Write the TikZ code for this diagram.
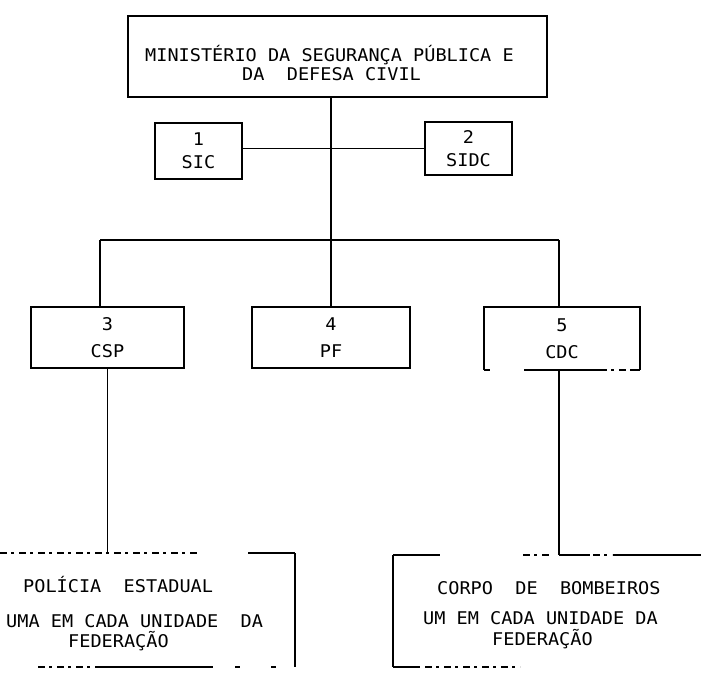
\documentclass[tikz,border=0pt]{standalone}
\usepackage{fontspec}
\newfontfamily\tw[FakeStretch=1.06]{DejaVu Sans Mono}
\begin{document}
\begin{tikzpicture}[x=1pt,y=-1pt,
  txt/.style={font=\tw\fontsize{17.5}{18}\selectfont,inner sep=0pt},
  box/.style={draw,line width=1.3pt,inner sep=0pt,outer sep=0pt,align=center,txt},
  frame/.style={inner sep=0pt,outer sep=0pt,align=center,txt},
  ln/.style={line width=1.3pt},
  faded/.style={line width=1.1pt,dash pattern=on 7pt off 4pt on 3pt off 5pt}]
\useasboundingbox (0,0) rectangle (701,673);
\fill[white] (0,0) rectangle (701,673);

% top box
\node[box,minimum width=419pt,minimum height=81pt] (min) at (337.5,56.5) {};
\node[txt,anchor=base west] (mint1) at (145,61) {MINISTÉRIO DA SEGURANÇA PÚBLICA E};
\node[txt,anchor=base west] (mint2) at (242,80) {DA\ \ DEFESA CIVIL};

% staff boxes
\node[box,minimum width=87pt,minimum height=56pt] (sic) at (198.5,151) {1\\[5pt]SIC};
\node[box,minimum width=87pt,minimum height=53pt] (sidc) at (468.5,148.5) {2\\[5pt]SIDC};

% middle boxes
\node[box,minimum width=153pt,minimum height=61pt] (csp) at (107.5,337.5) {3\\[9pt]CSP};
\node[box,minimum width=158pt,minimum height=61pt] (pf) at (331,337.5) {4\\[9pt]PF};
\node[frame,minimum width=156pt,minimum height=63pt] (cdc) at (562,338.5) {5\\[9pt]CDC};
\draw[ln] (cdc.south west) -- (cdc.north west) -- (cdc.north east) -- (cdc.south east);
\draw[ln] (cdc.south west) -- ++(6,0);
\draw[ln] ([xshift=40pt]cdc.south west) -- ([xshift=116pt]cdc.south west);
\draw[faded] ([xshift=116pt]cdc.south west) -- ([xshift=146pt]cdc.south west);
\draw[ln] ([xshift=146pt]cdc.south west) -- (cdc.south east);

% bottom boxes (open frames)
\node[frame,minimum width=315pt,minimum height=114pt] (pe) at (137.5,610) {};
\node[frame,minimum width=327pt,minimum height=112pt] (pc) at (556.5,611) {};

\draw[ln] (pe.north east) -- (pe.south east);
\draw[ln] (pe.north east) -- ++(-47,0);
\draw[faded] (0,553) -- (200,553);
\draw[faded] (38,667) -- (95,667);
\draw[ln] (95,667) -- (213,667);
\draw[ln] (235,667) -- (240,667);
\draw[ln] (271,667) -- (276,667);

\draw[ln] (pc.north west) -- (pc.south west);
\draw[ln] (pc.north west) -- ++(47,0);
\draw[faded] (523,555) -- (552,555);
\draw[ln] (559,555) -- (590,555);
\draw[faded] (593,555) -- (612,555);
\draw[ln] (613,555) -- (701,555);
\draw[ln] (pc.south west) -- ++(27,0);
\draw[faded] (425,667) -- (520,667);

% texts of bottom boxes
\node[txt,anchor=base west] (pe1) at (23,592) {POLÍCIA\ \ ESTADUAL};
\node[txt,anchor=base west] (pe2) at (6,627) {UMA EM CADA UNIDADE\ \ DA};
\node[txt,anchor=base west] (pe3) at (68,647) {FEDERAÇÃO};
\node[txt,anchor=base west] (pc1) at (437,594) {CORPO\ \ DE\ \ BOMBEIROS};
\node[txt,anchor=base west] (pc2) at (423,624) {UM EM CADA UNIDADE DA};
\node[txt,anchor=base west] (pc3) at (492,645) {FEDERAÇÃO};

% connectors
\coordinate (c1) at (331,148);
\coordinate (bus) at (331,240);
\coordinate (bl) at (100,240);
\coordinate (br) at (559,240);
\draw[line width=1.8pt] (min.south -| bus) -- (bus);
\draw[line width=1pt] (sic.east |- c1) -- (sidc.west |- c1);
\draw[ln] (bl) -- (br);
\draw[ln] (bl) -- (bl |- csp.north);
\draw[ln] (bus) -- (pf.north);
\draw[ln] (br) -- (br |- cdc.north);
\draw[ln] (csp.south) -- (csp.south |- pe.north);
\draw[ln] (cdc.south -| br) -- (pc.north -| br);
\end{tikzpicture}
\end{document}
